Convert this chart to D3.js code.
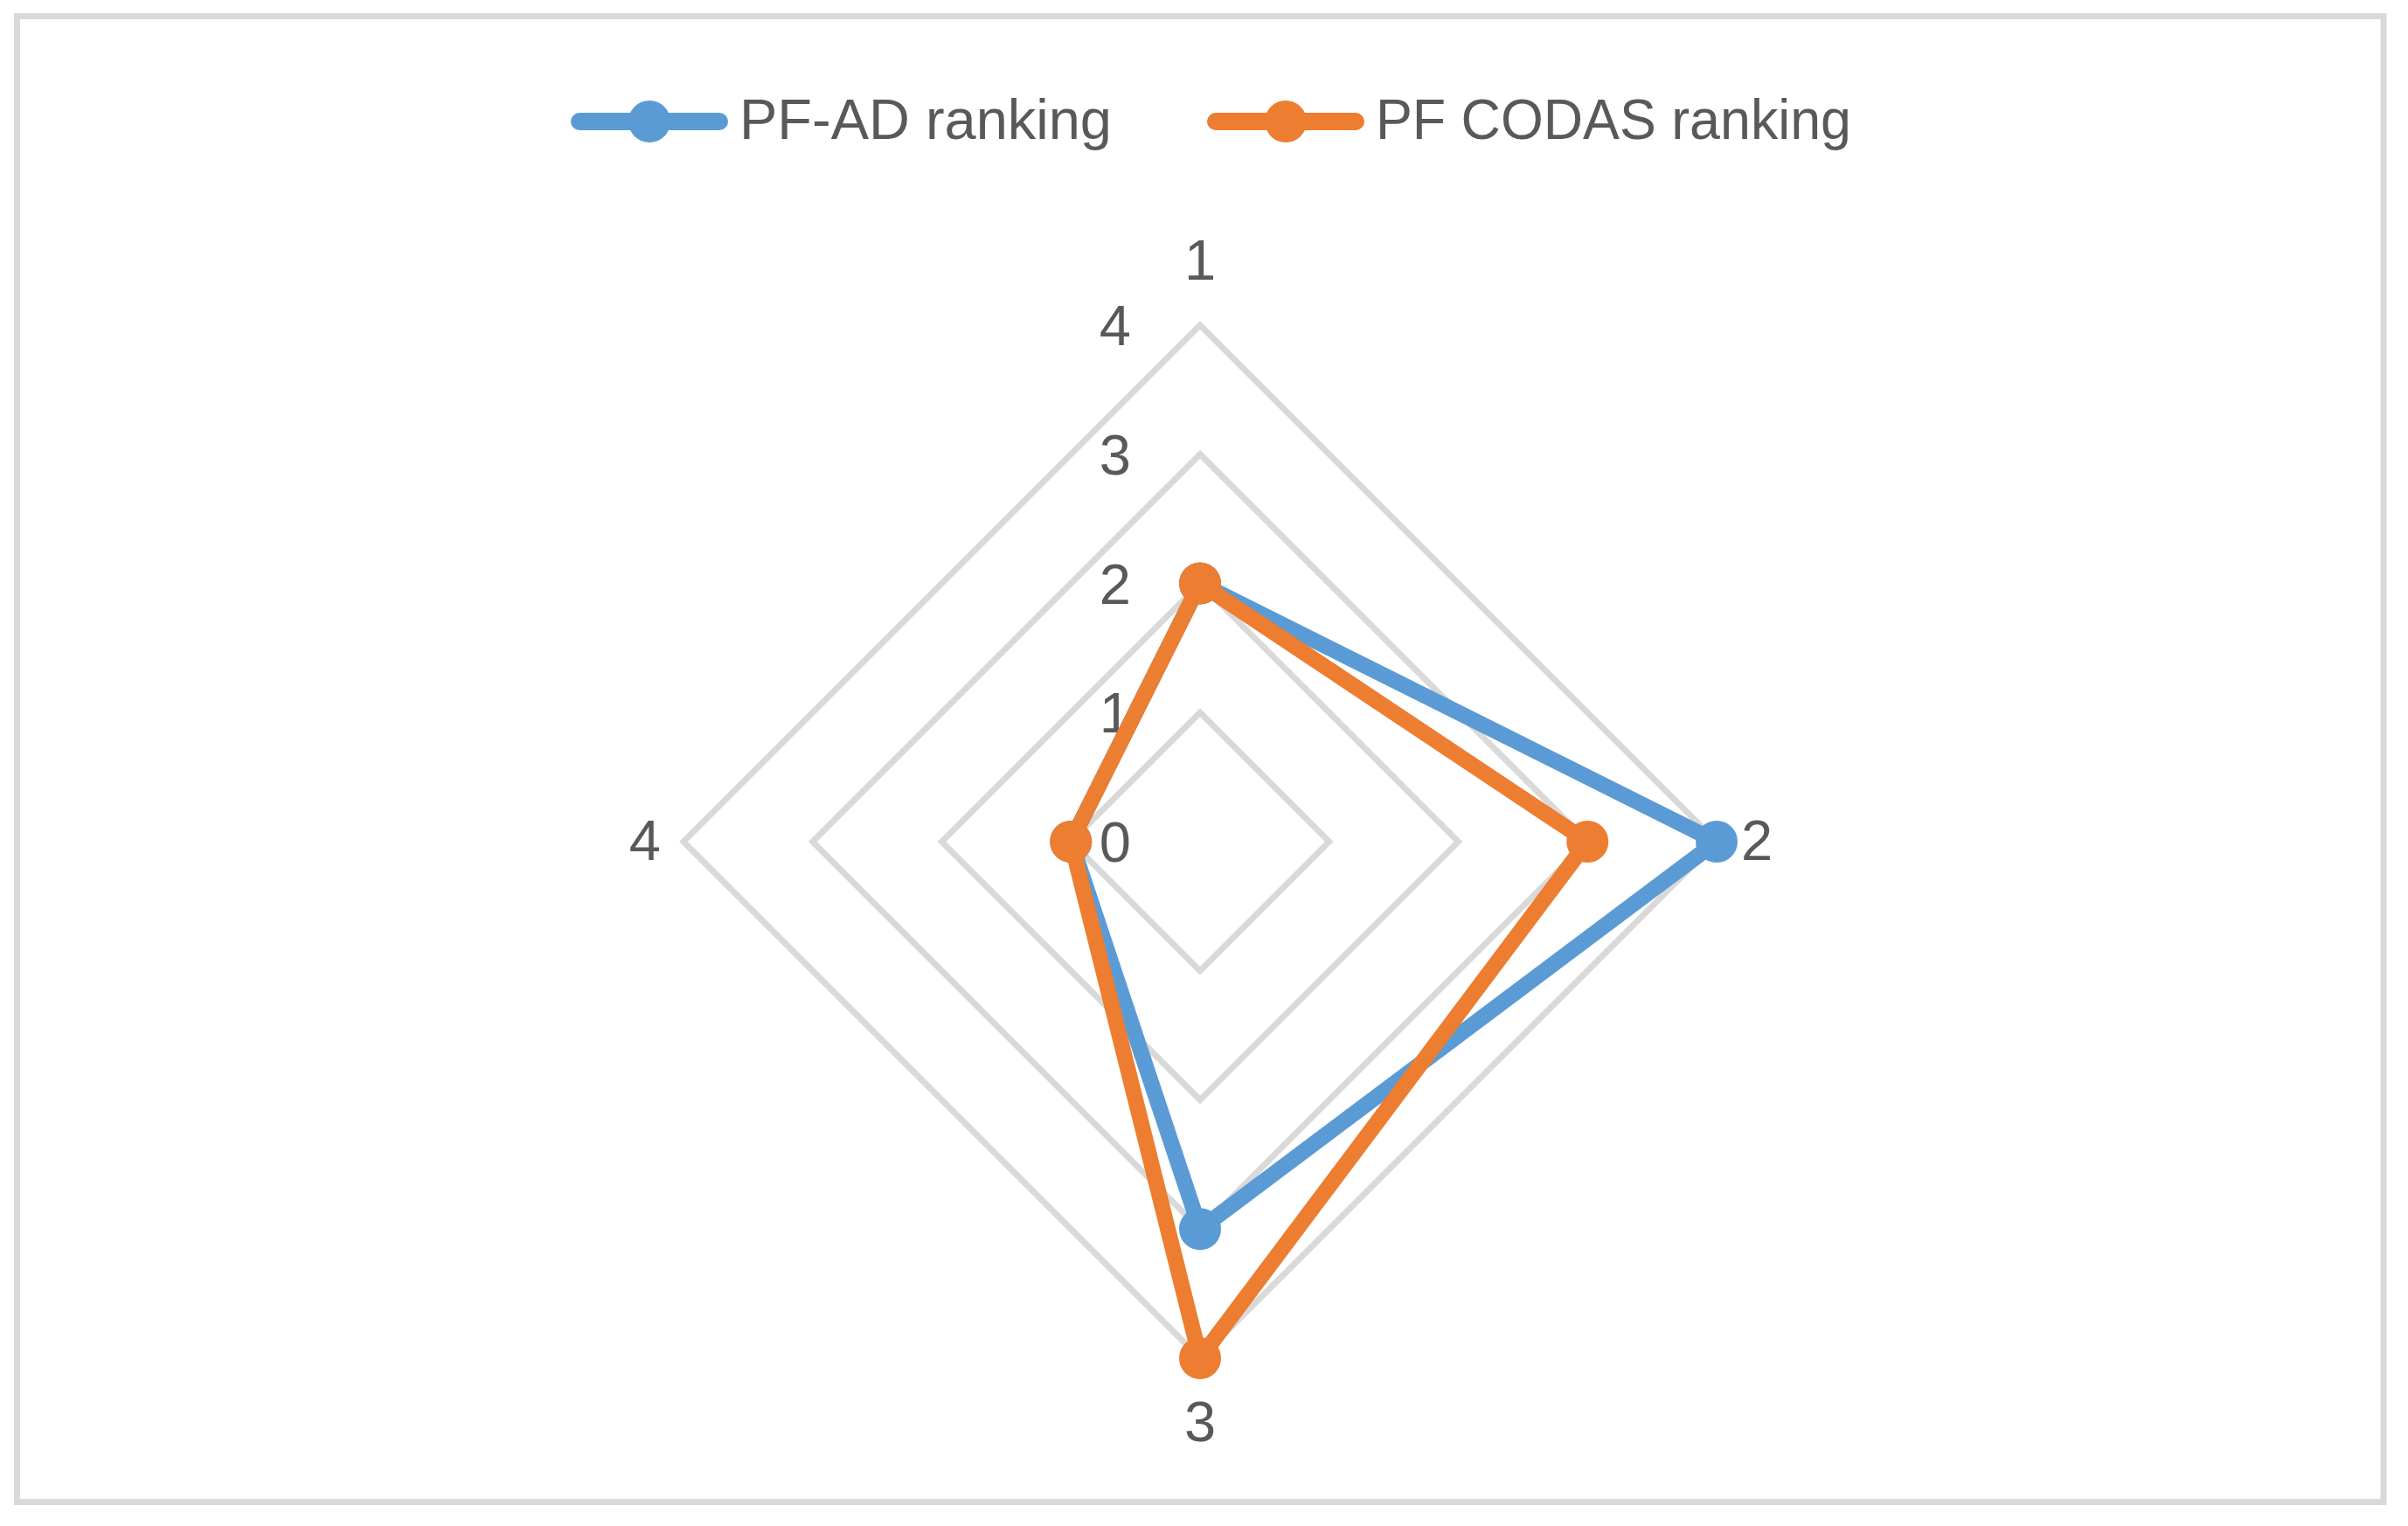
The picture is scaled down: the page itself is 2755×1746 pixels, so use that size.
<!DOCTYPE html>
<html>
<head>
<meta charset="utf-8">
<script src="https://cdn.jsdelivr.net/npm/d3@7"></script>
<style>
  body { margin: 0; background: #fff; }
  text { font-family: "Liberation Sans", Arial, sans-serif; fill: #595959; }
</style>
</head>
<body>
<div id="chart"></div>
<script>
const width = 2755;
const height = 1746;

// data
const categories = ["1", "2", "3", "4"];
const seriesNames = ["PF-AD ranking", "PF CODAS ranking"];
const pfAd = [2, 4, 3, 1];
const pfCodas = [2, 3, 4, 1];
const ticks = [0, 1, 2, 3, 4];
const colors = ["#5b9bd5", "#ed7d31"];

const cx = 1373, cy = 963, R = 591;

const svg = d3.select("#chart")
  .append("svg")
  .attr("width", width)
  .attr("height", height);

svg.append("rect")
  .attr("x", 19.5).attr("y", 18.5)
  .attr("width", 2707.5).attr("height", 1700)
  .attr("fill", "#fff")
  .attr("stroke", "#d9d9d9")
  .attr("stroke-width", 7);

const r = d3.scaleLinear().domain([0, 4]).range([0, R]);
const angle = d3.scalePoint().domain(categories).range([0, 2 * Math.PI * 3 / 4]);

const g = svg.append("g").attr("transform", `translate(${cx},${cy})`);

// grid rings
g.selectAll(".ring")
  .data(ticks.filter(t => t > 0))
  .enter()
  .append("path")
  .attr("class", "ring")
  .attr("d", t => d3.lineRadial().curve(d3.curveLinearClosed)
    .angle(c => angle(c)).radius(() => r(t))(categories))
  .attr("fill", "none")
  .attr("stroke", "#d9d9d9")
  .attr("stroke-width", 7);

// value ticks on the top axis
g.selectAll(".tick")
  .data(ticks)
  .enter()
  .append("text")
  .attr("class", "tick")
  .attr("x", -79)
  .attr("y", t => -r(t) + 23)
  .attr("text-anchor", "end")
  .attr("font-size", 65)
  .text(t => t);

// category labels
const pt = (c, v) => {
  const a = angle(c);
  return [Math.sin(a) * r(v), -Math.cos(a) * r(v)];
};
const labelPos = {
  "1": { dx: 0, dy: -52, anchor: "middle" },
  "2": { dx: 28, dy: 21, anchor: "start" },
  "3": { dx: 0, dy: 95, anchor: "middle" },
  "4": { dx: -26, dy: 21, anchor: "end" }
};
g.selectAll(".cat")
  .data(categories)
  .enter()
  .append("text")
  .attr("class", "cat")
  .attr("x", c => pt(c, 4)[0] + labelPos[c].dx)
  .attr("y", c => pt(c, 4)[1] + labelPos[c].dy)
  .attr("text-anchor", c => labelPos[c].anchor)
  .attr("font-size", 65)
  .text(c => c);

// series
[pfAd, pfCodas].forEach((vals, i) => {
  const pts = categories.map((c, j) => ({ c, v: vals[j] }));
  g.append("path")
    .attr("d", d3.lineRadial().curve(d3.curveLinearClosed)
      .angle(d => angle(d.c)).radius(d => r(d.v))(pts))
    .attr("fill", "none")
    .attr("stroke", colors[i])
    .attr("stroke-width", 18)
    .attr("stroke-linejoin", "round");
  g.selectAll(".m" + i)
    .data(pts)
    .enter()
    .append("circle")
    .attr("class", "m" + i)
    .attr("cx", d => pt(d.c, d.v)[0])
    .attr("cy", d => pt(d.c, d.v)[1])
    .attr("r", 24)
    .attr("fill", colors[i]);
});

// legend
const legendX = [653, 1381];
const legendTextLen = [426, 544];
const leg = svg.selectAll(".leg")
  .data(seriesNames)
  .enter()
  .append("g")
  .attr("class", "leg")
  .attr("transform", (d, i) => `translate(${legendX[i]},139)`);

leg.append("line")
  .attr("x1", 10).attr("x2", 170)
  .attr("stroke", (d, i) => colors[i])
  .attr("stroke-width", 20)
  .attr("stroke-linecap", "round");
leg.append("circle")
  .attr("cx", 90).attr("r", 24)
  .attr("fill", (d, i) => colors[i]);
leg.append("text")
  .attr("x", 193).attr("y", 20)
  .attr("font-size", 65)
  .attr("textLength", (d, i) => legendTextLen[i])
  .attr("lengthAdjust", "spacingAndGlyphs")
  .text(d => d);
</script>
</body>
</html>
